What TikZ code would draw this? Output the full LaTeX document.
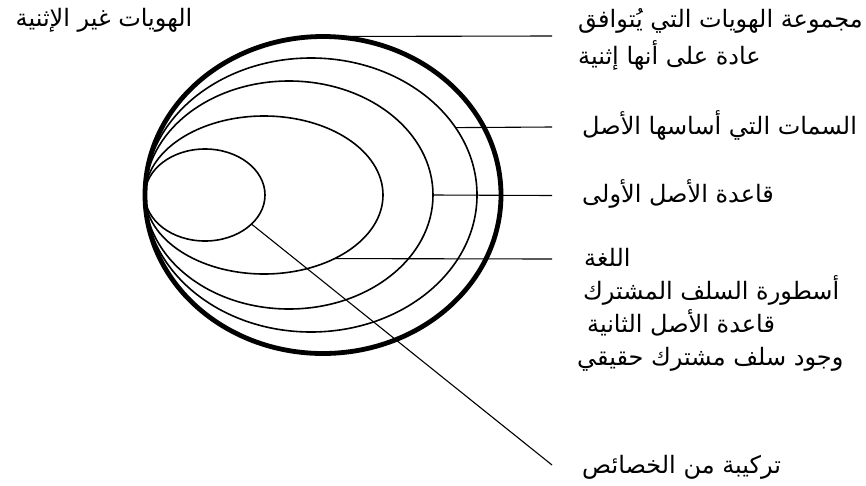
\documentclass[tikz,border=0pt]{standalone}
\usepackage{fontspec}
\usetikzlibrary{shapes.geometric}
\TeXXeTstate=1
\newfontfamily\arabicfont[Script=Arabic]{DejaVu Sans}
\newcommand\artxt[1]{\arabicfont\beginR #1\endR}
\begin{document}
\begin{tikzpicture}[x=1pt,y=-1pt,
  ell/.style={draw, ellipse, inner sep=0pt, outer sep=0pt, line width=1.6pt},
  lead/.style={line width=1.1pt},
  lbl/.style={inner sep=0pt, font=\fontsize{24}{28}\selectfont}]
\useasboundingbox (0,0) rectangle (866,485);
% ellipses
\node[ell, line width=4.8pt, minimum width=356pt, minimum height=317pt] (out) at (323,195) {};
\node[ell, minimum width=332pt, minimum height=274pt] (e4) at (311,195) {};
\node[ell, minimum width=288pt, minimum height=228pt] (e3) at (289,195) {};
\node[ell, minimum width=238pt, minimum height=158pt] (e2) at (264,195) {};
\node[ell, minimum width=120pt, minimum height=92pt] (e1) at (205,195) {};
% leader ends
\coordinate (c1) at (552,36);
\coordinate (c2) at (552,127);
\coordinate (c3) at (552,195.5);
\coordinate (c4) at (552,259);
\coordinate (c5) at (552,465);
\draw[lead] (out.north) -- (c1);
\draw[lead] (e4.25.3) -- (c2);
\draw[lead] (e3.east) -- (c3);
\draw[lead] (e2.-42.5) -- (c4);
\draw[lead] (e1.-32.6) -- (c5);
% labels
\node[lbl, anchor=base] (t0) at (104,26) {\artxt{الهويات غير الإثنية}};
\node[lbl, anchor=base west] (l1a) at (578,27) {\artxt{مجموعة الهويات التي يُتوافق}};
\node[lbl, anchor=base west] (l1b) at (578,64) {\artxt{عادة على أنها إثنية}};
\node[lbl, anchor=base west] (l2) at (582,134) {\artxt{السمات التي أساسها الأصل}};
\node[lbl, anchor=base west] (l3) at (582,202) {\artxt{قاعدة الأصل الأولى}};
\node[lbl, anchor=base west] (l4) at (584,266) {\artxt{اللغة}};
\node[lbl, anchor=base west] (l5) at (583,299) {\artxt{أسطورة السلف المشترك}};
\node[lbl, anchor=base west] (l6) at (587,332) {\artxt{قاعدة الأصل الثانية}};
\node[lbl, anchor=base west] (l7) at (577,365) {\artxt{وجود سلف مشترك حقيقي}};
\node[lbl, anchor=base west] (l8) at (582,473) {\artxt{تركيبة من الخصائص}};
\end{tikzpicture}
\end{document}
